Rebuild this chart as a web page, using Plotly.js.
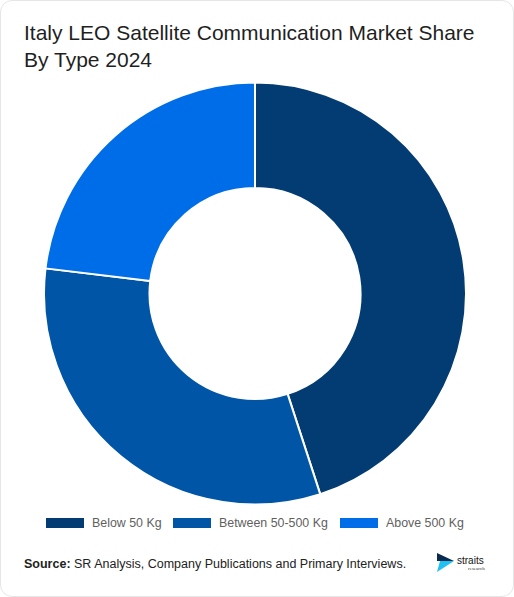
<!DOCTYPE html>
<html><head><meta charset="utf-8">
<script src="https://cdn.plot.ly/plotly-3.0.1.min.js"></script>
<style>
html,body{margin:0;padding:0;background:#fff;}
#wrap{position:relative;width:514px;height:597px;overflow:hidden;}
#chart{position:absolute;left:0;top:0;width:514px;height:597px;}
#frame{position:absolute;left:0;top:0;width:512px;height:595px;border:1px solid #e6e6e6;border-radius:12px;pointer-events:none;}
</style></head>
<body><div id="wrap"><div id="chart"></div><div id="frame"></div></div>
<script>
var labels = ["Below 50 Kg", "Between 50-500 Kg", "Above 500 Kg"];
var shares = [45.0, 31.9, 23.1];
var colors = ["#033b73", "#0055a6", "#006de8"];
var titleText = "Italy LEO Satellite Communication Market Share<br>By Type 2024";
var sourceText = "<b>Source:</b> SR Analysis, Company Publications and Primary Interviews.";

var W = 514, H = 597;
function px(x){return x/W;}
function py(y){return 1 - y/H;}

var trace = {
  type: "pie",
  labels: labels,
  values: shares,
  marker: {colors: colors, line: {color: "#ffffff", width: 2}},
  hole: 0.5,
  sort: false,
  direction: "clockwise",
  rotation: 0,
  textinfo: "none",
  hoverinfo: "label+percent",
  showlegend: false,
  domain: {x: [px(44), px(466)], y: [py(504.5), py(82.5)]}
};

var shapes = [], annotations = [];
var legX = [46, 173, 340];
labels.forEach(function(l, i){
  shapes.push({type:"rect", xref:"paper", yref:"paper",
    x0: px(legX[i]), x1: px(legX[i]+38), y0: py(528), y1: py(518),
    fillcolor: colors[i], line: {width: 0}});
  annotations.push({xref:"paper", yref:"paper", x: px(legX[i]+44), y: py(523),
    xanchor:"left", yanchor:"middle", text: l, showarrow:false,
    font:{family:"Liberation Sans, Arial, sans-serif", size:12.4, color:"#5f5f5f"}});
});
annotations.push({xref:"paper", yref:"paper", x: px(22), y: py(564),
  xanchor:"left", yanchor:"middle", text: sourceText, showarrow:false,
  font:{family:"Liberation Sans, Arial, sans-serif", size:12.5, color:"#222222"}});
// logo
shapes.push({type:"path", xref:"paper", yref:"paper",
  path: "M "+px(437)+" "+py(553)+" L "+px(454)+" "+py(561)+" L "+px(437)+" "+py(561)+" Z",
  fillcolor:"#0b2a4f", line:{width:0}});
shapes.push({type:"path", xref:"paper", yref:"paper",
  path: "M "+px(440)+" "+py(561)+" L "+px(454)+" "+py(561)+" L "+px(437)+" "+py(572)+" Z",
  fillcolor:"#1fc0f2", line:{width:0}});
annotations.push({xref:"paper", yref:"paper", x: px(455), y: py(560),
  xanchor:"left", yanchor:"middle", text: "straits", showarrow:false,
  font:{family:"Liberation Sans, Arial, sans-serif", size:10, color:"#111111"}});
annotations.push({xref:"paper", yref:"paper", x: px(466), y: py(568),
  xanchor:"left", yanchor:"middle", text: "research", showarrow:false,
  font:{family:"Liberation Serif, serif", size:5, color:"#333333"}});

var layout = {
  width: W, height: H,
  margin: {l:0, r:0, t:0, b:0},
  paper_bgcolor: "#ffffff",
  title: {text: titleText, x: px(24), xanchor: "left", y: py(40), yanchor: "middle",
    font: {family: "Liberation Sans, Arial, sans-serif", size: 21, color: "#1f1f1f"}},
  shapes: shapes,
  annotations: annotations,
  showlegend: false
};
Plotly.newPlot("chart", [trace], layout, {displayModeBar: false, staticPlot: true});
</script></body></html>
